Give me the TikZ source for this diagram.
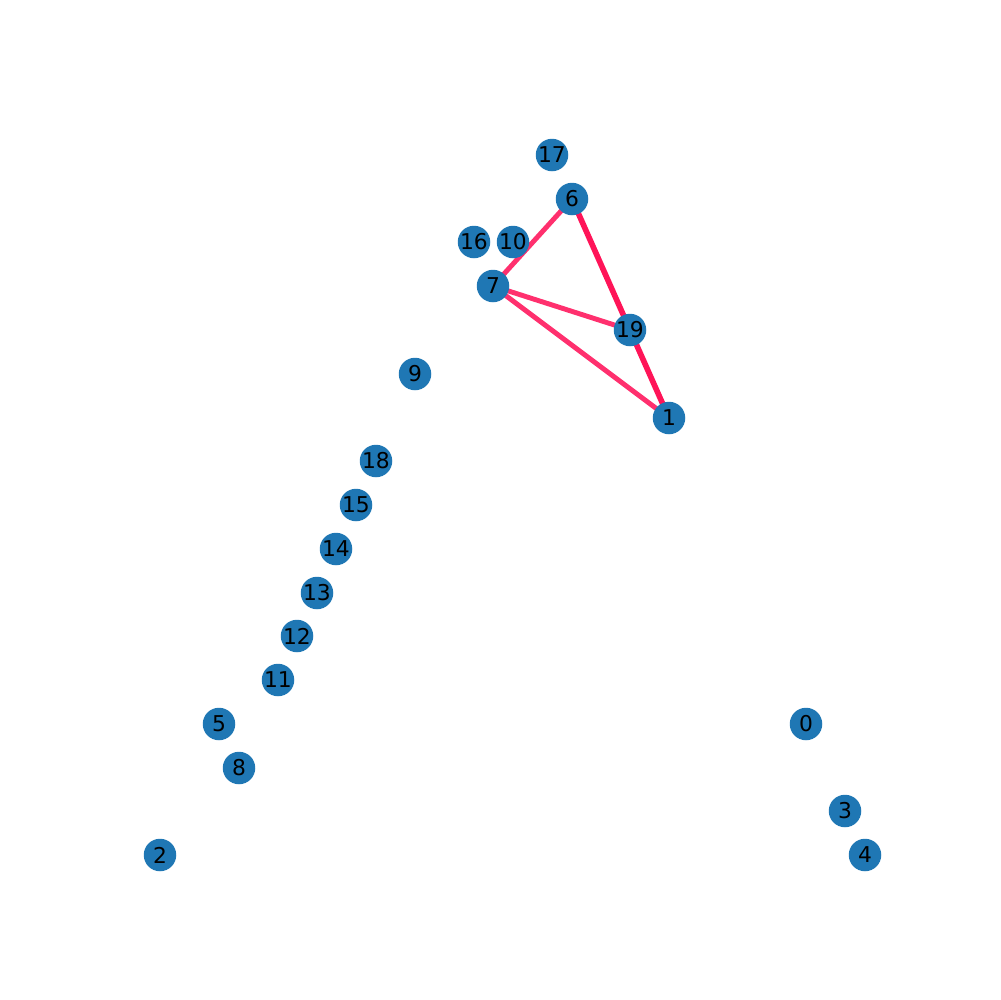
\documentclass[tikz,border=0pt]{standalone}
\usepackage{fontspec}
\setmainfont{DejaVu Sans}
\usetikzlibrary{backgrounds}
\definecolor{nodeblue}{HTML}{1F77B4}
\definecolor{edgeA}{HTML}{FF1458}
\definecolor{edgeB}{HTML}{FF306E}
\begin{document}
\begin{tikzpicture}[x=0.1mm,y=-0.1mm,
  vertex/.style={circle,fill=nodeblue,draw=none,minimum size=3.25mm,inner sep=0pt,font=\fontsize{6.2pt}{7pt}\selectfont,text=black},
  strongedge/.style={draw=edgeA,line width=1.6pt},
  weakedge/.style={draw=edgeB,line width=1.4pt}]
\useasboundingbox (0,0) rectangle (1000,1000);
\node[vertex] (n17) at (552,155) {17};
\node[vertex] (n6) at (572,199) {6};
\node[vertex] (n16) at (474,242) {16};
\node[vertex] (n10) at (513,242) {10};
\node[vertex] (n7) at (493,286) {7};
\node[vertex] (n19) at (630,330) {19};
\node[vertex] (n9) at (415,374) {9};
\node[vertex] (n1) at (669,418) {1};
\node[vertex] (n18) at (376,461) {18};
\node[vertex] (n15) at (356,505) {15};
\node[vertex] (n14) at (336,549) {14};
\node[vertex] (n13) at (317,593) {13};
\node[vertex] (n12) at (297,636) {12};
\node[vertex] (n11) at (278,680) {11};
\node[vertex] (n5) at (219,724) {5};
\node[vertex] (n8) at (239,768) {8};
\node[vertex] (n2) at (160,855) {2};
\node[vertex] (n0) at (806,724) {0};
\node[vertex] (n3) at (845,811) {3};
\node[vertex] (n4) at (865,855) {4};
\begin{scope}[on background layer]
\draw[weakedge] (n7.center) -- (n6.center);
\draw[weakedge] (n7.center) -- (n19.center);
\draw[weakedge] (n7.center) -- (n1.center);
\draw[strongedge] (n6.center) -- (n19.center);
\draw[strongedge] (n19.center) -- (n1.center);
\end{scope}
\end{tikzpicture}
\end{document}
